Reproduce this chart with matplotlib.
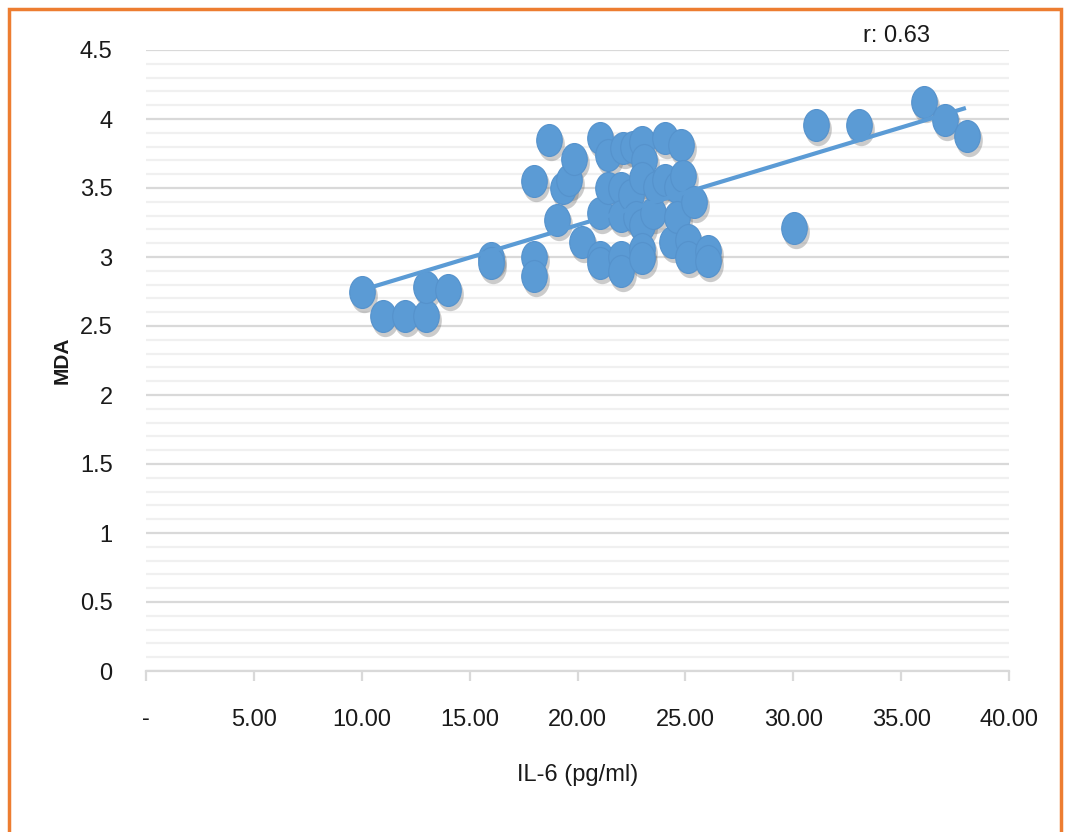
import numpy as np
from matplotlib import pyplot as plt
from matplotlib.path import Path
from matplotlib.patches import Rectangle
from matplotlib import transforms

# IL-6 (pg/ml) vs MDA
il6 = [10, 11, 12, 13, 13, 14, 16, 16, 18, 18, 18, 18.7, 19.05, 19.35, 19.6,
       19.85, 20.2, 21.05, 21.05, 21.05, 21.05, 21.4, 21.4, 22, 22, 22, 22,
       22.1, 22.55, 22.5, 22.7, 23.0, 23.1, 23.0, 23.0, 23.0, 23.0, 23.5,
       23.65, 24.05, 24.05, 24.4, 24.6, 24.6, 24.8, 24.9, 25.1, 25.1, 25.4,
       26.05, 26.05, 30.05, 31.05, 33.05, 36.05, 37.05, 38.05]
mda = [2.75, 2.57, 2.57, 2.57, 2.78, 2.76, 2.99, 2.96, 3.55, 3.0, 2.86, 3.85,
       3.27, 3.5, 3.56, 3.71, 3.11, 3.86, 3.32, 3.0, 2.96, 3.74, 3.5, 3.5,
       3.3, 3.0, 2.9, 3.79, 3.8, 3.45, 3.29, 3.83, 3.7, 3.57, 3.23, 3.06,
       2.99, 3.32, 3.51, 3.86, 3.56, 3.11, 3.51, 3.29, 3.81, 3.59, 3.12, 3.0,
       3.4, 3.04, 2.97, 3.21, 3.96, 3.96, 4.12, 3.99, 3.88]

# trendline ends as drawn
trend_x = [10, 38]
trend_y = [2.76, 4.08]

x_ticks = [0, 5, 10, 15, 20, 25, 30, 35, 40]
x_labels = ['-', '5.00', '10.00', '15.00', '20.00', '25.00', '30.00', '35.00', '40.00']
y_ticks = [0, 0.5, 1, 1.5, 2, 2.5, 3, 3.5, 4, 4.5]
y_labels = ['0', '0.5', '1', '1.5', '2', '2.5', '3', '3.5', '4', '4.5']

BLUE = '#5B9BD5'
FONT = ['Liberation Sans', 'DejaVu Sans']
TXT = '#1a1a1a'

fig = plt.figure(figsize=(10.68, 8.32), dpi=100)
ax = fig.add_axes([146/1068, 1 - 671/832, (1009-146)/1068, (671-50)/832])

# vertical ellipse marker
circ = Path.unit_circle()
ell = Path(circ.vertices * np.array([0.8, 1.0]), circ.codes)

shadow = transforms.offset_copy(ax.transData, fig=fig, x=2, y=-4, units='dots')
ax.plot(il6, mda, ls='none', marker=ell, ms=24, mfc='#555555', mec='none',
        alpha=0.3, transform=shadow, zorder=2)
ax.plot(il6, mda, ls='none', marker=ell, ms=23, mfc=BLUE, mec='#5592CC',
        mew=0.8, zorder=3)
ax.plot(trend_x, trend_y, color=BLUE, lw=3, solid_capstyle='butt', zorder=4)

ax.set_xlim(0, 40)
ax.set_ylim(0, 4.5)
ax.set_xticks(x_ticks)
ax.set_xticklabels(x_labels, family=FONT, fontsize=17, color=TXT)
ax.set_yticks(y_ticks)
ax.set_yticklabels(y_labels, family=FONT, fontsize=17, color=TXT)
ax.set_yticks(np.arange(0, 4.5, 0.1), minor=True)
ax.grid(which='major', axis='y', color='#D9D9D9', lw=1.6, zorder=0)
ax.grid(which='minor', axis='y', color='#F0F0F0', lw=1.6, zorder=0)
ax.set_axisbelow(True)

for s in ['top', 'right', 'left']:
    ax.spines[s].set_visible(False)
ax.spines['bottom'].set_color('#D9D9D9')
ax.spines['bottom'].set_linewidth(1.6)
ax.tick_params(axis='x', length=7, width=1.6, color='#D9D9D9', pad=20)
ax.tick_params(axis='y', which='both', length=0, pad=24)

ax.set_xlabel('IL-6 (pg/ml)', family=FONT, fontsize=17, color=TXT, labelpad=24)
ax.set_ylabel('MDA', family='Liberation Sans', fontsize=15, fontweight='bold',
              color=TXT, labelpad=6)
ax.text(34.8, 4.6, 'r: 0.63', family=FONT, fontsize=17, color=TXT,
        ha='center', va='center', clip_on=False)

# orange frame round the figure
fig.patches.append(Rectangle((9/1068, -0.05), (1061-9)/1068, 1.05 - 9/832,
                             transform=fig.transFigure, fill=False,
                             edgecolor='#ED7D31', lw=2.5))

fig.savefig('out.png', dpi=100)
